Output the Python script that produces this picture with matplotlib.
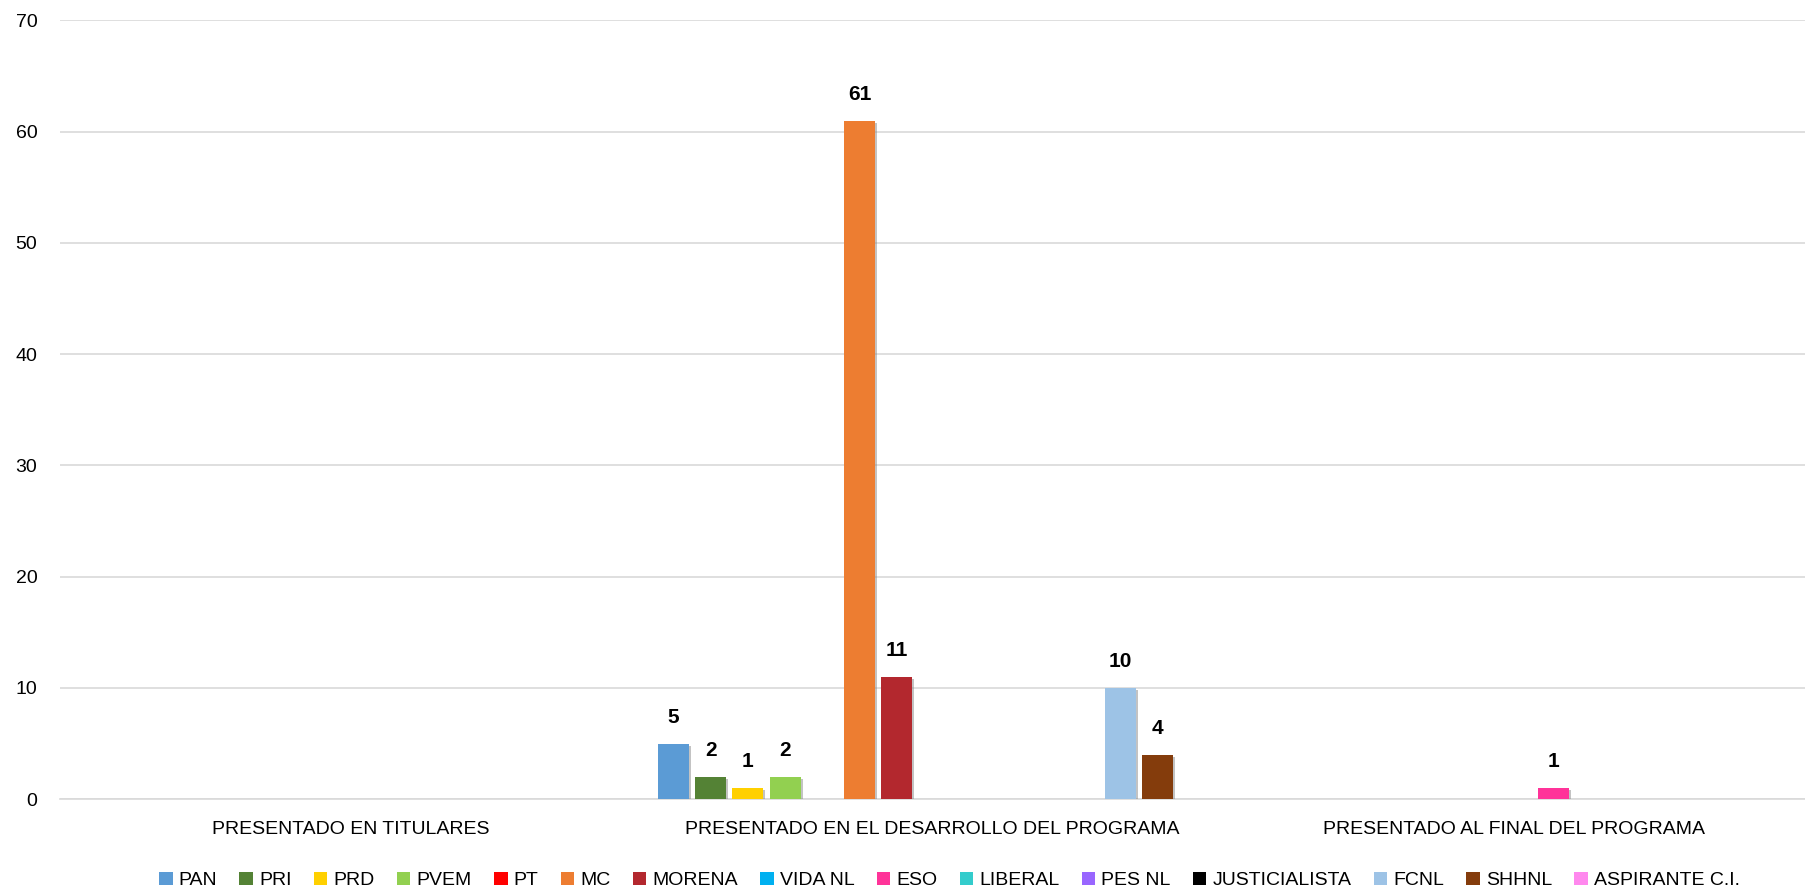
import matplotlib
matplotlib.use('agg')
import matplotlib.pyplot as plt
import matplotlib.patheffects as pe
import numpy as np

plt.rcParams['font.family'] = ['Liberation Sans', 'DejaVu Sans']

categories = ['PRESENTADO EN TITULARES',
              'PRESENTADO EN EL DESARROLLO DEL PROGRAMA',
              'PRESENTADO AL FINAL DEL PROGRAMA']
parties = ['PAN', 'PRI', 'PRD', 'PVEM', 'PT', 'MC', 'MORENA', 'VIDA NL', 'ESO',
           'LIBERAL', 'PES NL', 'JUSTICIALISTA', 'FCNL', 'SHHNL', 'ASPIRANTE C.I.']
colors = ['#5B9BD5', '#548235', '#FFD000', '#92D050', '#FF0000', '#ED7D31',
          '#B3282E', '#00B0F0', '#FF3399', '#33CCCC', '#9966FF', '#000000',
          '#9DC3E6', '#843C0C', '#FF88EE']
# values[party] = [titulares, desarrollo, final]
values = {
    'PAN': [0, 5, 0],
    'PRI': [0, 2, 0],
    'PRD': [0, 1, 0],
    'PVEM': [0, 2, 0],
    'PT': [0, 0, 0],
    'MC': [0, 61, 0],
    'MORENA': [0, 11, 0],
    'VIDA NL': [0, 0, 0],
    'ESO': [0, 0, 1],
    'LIBERAL': [0, 0, 0],
    'PES NL': [0, 0, 0],
    'JUSTICIALISTA': [0, 0, 0],
    'FCNL': [0, 10, 0],
    'SHHNL': [0, 4, 0],
    'ASPIRANTE C.I.': [0, 0, 0],
}

fig = plt.figure(figsize=(18.05, 8.89), dpi=100)
ax = fig.add_axes([0.033, 0.101, 0.967, 0.876])

x = np.arange(len(categories))
n = len(parties)
slot = 0.96 / n
width = slot * 0.83
shadow = [pe.SimplePatchShadow(offset=(1.5, -1.5), shadow_rgbFace='#888888', alpha=0.5), pe.Normal()]

for i, p in enumerate(parties):
    pos = x - 0.477 + slot * (i + 0.5)
    bars = ax.bar(pos, values[p], width, color=colors[i], label=p, linewidth=0, zorder=3)
    for b, v in zip(bars, values[p]):
        if v > 0:
            b.set_path_effects(shadow)
            ax.annotate(str(v), (b.get_x() + b.get_width() / 2, v), xytext=(0, 12),
                        textcoords='offset points', ha='center', va='bottom',
                        fontsize=15, fontweight='bold', color='black')

ax.set_xlim(-0.5, 2.5)
ax.set_ylim(0, 70)
ax.set_yticks(range(0, 71, 10))
ax.set_xticks(x)
ax.set_xticklabels(categories)
ax.tick_params(length=0, labelsize=14, pad=16)
ax.tick_params(axis='y', pad=16)
ax.yaxis.grid(True, color='#d9d9d9', linewidth=1.2, zorder=0)
ax.set_axisbelow(True)
for s in ['top', 'right', 'left']:
    ax.spines[s].set_visible(False)
ax.spines['bottom'].set_color('#d9d9d9')
ax.spines['bottom'].set_linewidth(1.2)

fig.legend(loc='lower center', ncol=n, frameon=False, fontsize=14,
           handlelength=0.7, handleheight=0.7, handletextpad=0.3,
           columnspacing=1.15, bbox_to_anchor=(0.526, -0.02))

fig.savefig('out.png', dpi=100)
